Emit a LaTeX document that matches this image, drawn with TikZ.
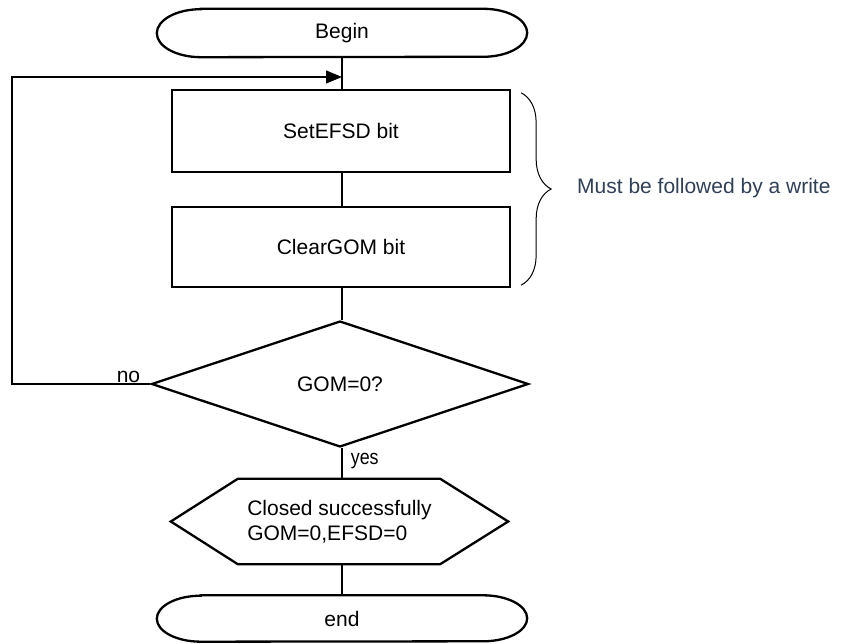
\documentclass[tikz,border=0pt]{standalone}
\usepackage{fontspec}
\setmainfont{Liberation Sans}
\usetikzlibrary{shapes.geometric,arrows.meta,decorations.pathreplacing}
\definecolor{notecol}{RGB}{47,64,88}
\begin{document}
\begin{tikzpicture}[x=1pt,y=1pt,
  txt/.style={font=\fontsize{21}{25}\selectfont},
  thick line/.style={line width=2.3pt},
  conn/.style={line width=1.1pt},
  termnode/.style={txt,minimum width=370pt,minimum height=48pt,inner sep=0pt},
  boxnode/.style={txt,draw,thick line,minimum width=338pt,inner sep=0pt},
  decnode/.style={txt,draw,thick line,diamond,minimum width=377pt,minimum height=126pt,inner sep=0pt},
  hexnode/.style={txt,align=left,minimum width=337pt,minimum height=85pt,inner sep=0pt}
]
\useasboundingbox (0,0) rectangle (842,644);
\fill[white] (0,0) rectangle (842,644);

% nodes
\node[termnode] (begin) at (342,611) {Begin};
\node[boxnode,minimum height=82pt] (set) at (341,513) {SetEFSD bit};
\node[boxnode,minimum height=80pt] (clear) at (341,397) {ClearGOM bit};
\node[decnode] (dec) at (340,260) {GOM=0?};
\node[hexnode] (hex) at (339.5,122.5) {Closed successfully\\GOM=0,EFSD=0};
\node[termnode,minimum height=46pt] (end) at (342,25.5) {end};

% terminator outlines
\draw[thick line] ([xshift=44pt]begin.north west) -- ([xshift=-44pt]begin.north east)
  arc[start angle=90,end angle=-90,x radius=44pt,y radius=24pt]
  -- ([xshift=44pt]begin.south west)
  arc[start angle=270,end angle=90,x radius=44pt,y radius=24pt] -- cycle;
\draw[thick line] ([xshift=44pt]end.north west) -- ([xshift=-44pt]end.north east)
  arc[start angle=90,end angle=-90,x radius=44pt,y radius=23pt]
  -- ([xshift=44pt]end.south west)
  arc[start angle=270,end angle=90,x radius=44pt,y radius=23pt] -- cycle;

% hexagon outline
\draw[thick line] (hex.west) -- ([xshift=67pt]hex.north west) -- ([xshift=-68pt]hex.north east)
  -- (hex.east) -- ([xshift=-68pt]hex.south east) -- ([xshift=67pt]hex.south west) -- cycle;

% connectors
\coordinate (j) at (342,567);
\coordinate (lb) at (12,260);
\coordinate (lt) at (12,567);
\draw[conn] (begin.south -| j) -- (set.north -| j);
\draw[conn] (set.south -| j) -- (clear.north -| j);
\draw[conn] (clear.south -| j) -- (dec.north -| j);
\draw[conn] (dec.south -| j) -- (hex.north -| j);
\draw[conn] (hex.south -| j) -- (end.north -| j);
\draw[conn,-{Triangle[length=16pt,width=13pt]}] (dec.west) -- (lb) -- (lt) -- (j);

% labels
\node[txt,anchor=south east,inner sep=2pt] (no) at ([xshift=-8pt,yshift=-1pt]dec.west) {no};
\node[txt,anchor=north west,inner sep=2pt,xscale=0.85] (yes) at ([xshift=7pt,yshift=-3pt]dec.south -| j) {yes};

% brace and note
\draw[line width=1pt,decorate,decoration={brace,amplitude=30pt,aspect=0.5}]
  ([xshift=10pt,yshift=-4pt]set.north east) -- ([xshift=10pt,yshift=3pt]clear.south east);
\node[txt,text=notecol,anchor=west,inner sep=0pt] (note) at (577,456) {Must be followed by a write};
\end{tikzpicture}
\end{document}
